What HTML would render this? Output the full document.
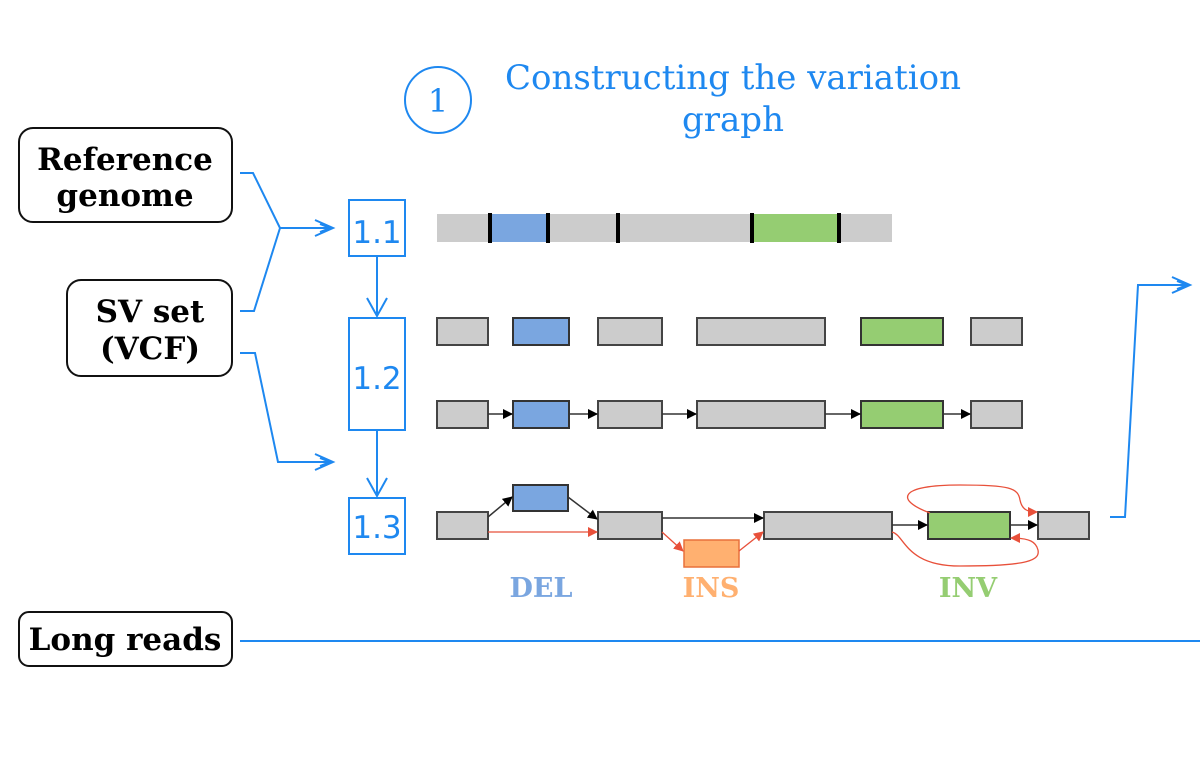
<!DOCTYPE html>
<html><head><meta charset="utf-8"><style>
html,body{margin:0;padding:0;background:#fff;width:1200px;height:761px;overflow:hidden}
svg{display:block}
.g{fill:#cccccc;stroke:#444;stroke-width:2}
.b{fill:#7aa6e0;stroke:#333;stroke-width:2}
.gr{fill:#95cd72;stroke:#333;stroke-width:2}
.bl{fill:none;stroke:#1e88f0;stroke-width:2}
.k{stroke:#333;stroke-width:1.5;fill:none}
.r{stroke:#e8503a;stroke-width:1.3;fill:none}
</style></head><body>
<svg width="1200" height="761" viewBox="0 0 1200 761" xmlns="http://www.w3.org/2000/svg">
<defs>
<marker id="ak" markerWidth="10" markerHeight="10" refX="9" refY="5" orient="auto" markerUnits="userSpaceOnUse"><path d="M0,0 L10,5 L0,10z" fill="#000"/></marker>
<marker id="ar" markerWidth="10" markerHeight="10" refX="9" refY="5" orient="auto" markerUnits="userSpaceOnUse"><path d="M0,0 L10,5 L0,10z" fill="#e8503a"/></marker>
</defs>
<circle cx="438" cy="100" r="33" class="bl"/>
<text x="438" y="112" font-family="DejaVu Serif, serif" font-size="32" fill="#1e88f0" text-anchor="middle">1</text>
<text x="733" y="89" font-family="DejaVu Serif, serif" font-size="34" fill="#1e88f0" text-anchor="middle">Constructing the variation</text>
<text x="733" y="131" font-family="DejaVu Serif, serif" font-size="34" fill="#1e88f0" text-anchor="middle">graph</text>

<rect x="19" y="128" width="213" height="94" rx="14" fill="#fff" stroke="#111" stroke-width="2"/>
<text x="125" y="170" font-family="DejaVu Serif, serif" font-weight="bold" font-size="31" text-anchor="middle">Reference</text>
<text x="125" y="206" font-family="DejaVu Serif, serif" font-weight="bold" font-size="31" text-anchor="middle">genome</text>
<rect x="67" y="280" width="165" height="96" rx="14" fill="#fff" stroke="#111" stroke-width="2"/>
<text x="150" y="322" font-family="DejaVu Serif, serif" font-weight="bold" font-size="31" text-anchor="middle">SV set</text>
<text x="150" y="359" font-family="DejaVu Serif, serif" font-weight="bold" font-size="31" text-anchor="middle">(VCF)</text>
<rect x="19" y="612" width="213" height="54" rx="10" fill="#fff" stroke="#111" stroke-width="2"/>
<text x="125" y="650" font-family="DejaVu Serif, serif" font-weight="bold" font-size="31" text-anchor="middle">Long reads</text>
<line x1="240" y1="641" x2="1200" y2="641" class="bl" stroke-width="1.5"/>

<path d="M240,173 L253,173 L280,228 L254,311 L240,311" class="bl"/>
<path d="M280,228 L330,228" class="bl"/>
<path d="M315,220 L333,228 L315,236 M320,224 L330,228 L320,232" class="bl"/>
<path d="M240,353 L255,353 L278,462 L330,462" class="bl"/>
<path d="M315,454 L333,462 L315,470 M320,458 L330,462 L320,466" class="bl"/>

<rect x="349" y="200" width="56" height="56" class="bl"/>
<text x="377" y="243" font-family="DejaVu Sans, sans-serif" font-size="31" fill="#1e88f0" text-anchor="middle">1.1</text>
<rect x="349" y="318" width="56" height="112" class="bl"/>
<text x="377" y="389" font-family="DejaVu Sans, sans-serif" font-size="31" fill="#1e88f0" text-anchor="middle">1.2</text>
<rect x="349" y="498" width="56" height="56" class="bl"/>
<text x="377" y="538" font-family="DejaVu Sans, sans-serif" font-size="31" fill="#1e88f0" text-anchor="middle">1.3</text>
<path d="M377,256 L377,316 M367,298 L377,316 L387,298" class="bl"/>
<path d="M377,430 L377,496 M367,478 L377,496 L387,478" class="bl"/>

<rect x="437" y="214" width="455" height="28" fill="#cccccc"/>
<rect x="490" y="214" width="58" height="28" fill="#7aa6e0"/>
<rect x="752" y="214" width="87" height="28" fill="#95cd72"/>
<g fill="#000"><rect x="488" y="213" width="4" height="30"/><rect x="546" y="213" width="4" height="30"/><rect x="616" y="213" width="4" height="30"/><rect x="750" y="213" width="4" height="30"/><rect x="837" y="213" width="4" height="30"/></g>

<rect x="437" y="318" width="51" height="27" class="g"/>
<rect x="513" y="318" width="56" height="27" class="b"/>
<rect x="598" y="318" width="64" height="27" class="g"/>
<rect x="697" y="318" width="128" height="27" class="g"/>
<rect x="861" y="318" width="82" height="27" class="gr"/>
<rect x="971" y="318" width="51" height="27" class="g"/>

<rect x="437" y="401" width="51" height="27" class="g"/>
<rect x="513" y="401" width="56" height="27" class="b"/>
<rect x="598" y="401" width="64" height="27" class="g"/>
<rect x="697" y="401" width="128" height="27" class="g"/>
<rect x="861" y="401" width="82" height="27" class="gr"/>
<rect x="971" y="401" width="51" height="27" class="g"/>
<g class="k"><line x1="488" y1="414" x2="512" y2="414" marker-end="url(#ak)"/><line x1="569" y1="414" x2="597" y2="414" marker-end="url(#ak)"/><line x1="662" y1="414" x2="696" y2="414" marker-end="url(#ak)"/><line x1="825" y1="414" x2="860" y2="414" marker-end="url(#ak)"/><line x1="943" y1="414" x2="970" y2="414" marker-end="url(#ak)"/></g>

<rect x="437" y="512" width="51" height="27" class="g"/>
<rect x="513" y="485" width="55" height="26" class="b"/>
<rect x="598" y="512" width="64" height="27" class="g"/>
<rect x="684" y="540" width="55" height="27" fill="#ffb070" stroke="#e8703a" stroke-width="1.5"/>
<rect x="764" y="512" width="128" height="27" class="g"/>
<rect x="928" y="512" width="82" height="27" class="gr"/>
<rect x="1038" y="512" width="51" height="27" class="g"/>
<g class="k">
<line x1="488" y1="517" x2="512" y2="497" marker-end="url(#ak)"/>
<line x1="568" y1="497" x2="597" y2="519" marker-end="url(#ak)"/>
<line x1="662" y1="518" x2="763" y2="518" marker-end="url(#ak)"/>
<line x1="892" y1="525" x2="927" y2="525" marker-end="url(#ak)"/>
<line x1="1010" y1="525" x2="1037" y2="525" marker-end="url(#ak)"/>
</g>
<g class="r">
<line x1="488" y1="532" x2="597" y2="532" marker-end="url(#ar)"/>
<line x1="662" y1="532" x2="683" y2="551" marker-end="url(#ar)"/>
<line x1="739" y1="551" x2="763" y2="532" marker-end="url(#ar)"/>
<path d="M930,513 C895,500 898,485 960,485 C1010,485 1018,488 1020,500 C1022,510 1028,512 1037,512" marker-end="url(#ar)"/>
<path d="M892,532 C905,535 905,566 960,566 C1030,566 1040,560 1038,550 C1036,542 1030,538 1011,538" marker-end="url(#ar)"/>
</g>

<text x="541" y="597" font-family="DejaVu Serif, serif" font-weight="bold" font-size="27" fill="#7aa6e0" text-anchor="middle">DEL</text>
<text x="711" y="597" font-family="DejaVu Serif, serif" font-weight="bold" font-size="27" fill="#ffb070" text-anchor="middle">INS</text>
<text x="968" y="597" font-family="DejaVu Serif, serif" font-weight="bold" font-size="27" fill="#95cd72" text-anchor="middle">INV</text>

<path d="M1110,517 L1125,517 L1138,285 L1188,285" class="bl"/>
<path d="M1172,277 L1190,285 L1172,293 M1177,281 L1187,285 L1177,289" class="bl"/>
</svg>
</body></html>
